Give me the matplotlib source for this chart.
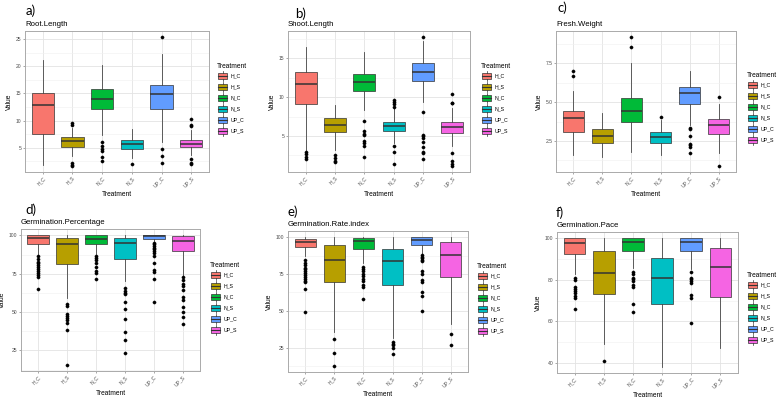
import matplotlib
matplotlib.use("Agg")
import matplotlib.pyplot as plt
from matplotlib.patches import Rectangle, Patch
from matplotlib.lines import Line2D
from matplotlib.legend_handler import HandlerBase
from matplotlib.ticker import FixedLocator, MultipleLocator

plt.rcParams['font.family'] = ['Liberation Sans', 'DejaVu Sans']

treatments = ["H_C", "H_S", "N_C", "N_S", "UP_C", "UP_S"]
colors = ["#F8766D", "#B79F00", "#00BA38", "#00BFC4", "#619CFF", "#F564E3"]

# a) Root.Length
root_lo = [1.9, 3.4, 7.4, 3.1, 6.0, 3.7]
root_q1 = [7.6, 5.2, 12.2, 4.7, 12.2, 5.05]
root_med = [12.9, 6.2, 13.9, 5.6, 14.8, 5.7]
root_q3 = [15.1, 6.9, 15.8, 6.5, 16.6, 6.4]
root_hi = [21.1, 8.6, 20.3, 8.4, 22.2, 8.3]
root_out = [[], [9.6, 9.2, 2.2, 1.9, 1.7], [6.1, 5.25, 4.8, 4.45, 3.35, 2.5],
            [2.0], [25.3, 4.7, 3.5, 2.1], [10.3, 9.2, 8.9, 2.9, 2.2, 2.0]]
root_ticks = [5, 10, 15, 20, 25]

# b) Shoot.Length
shoot_lo = [3.2, 3.2, 8.4, 4.1, 9.4, 3.7]
shoot_q1 = [9.1, 5.56, 10.75, 5.6, 12.1, 5.35]
shoot_med = [11.7, 6.4, 11.95, 6.3, 13.25, 6.15]
shoot_q3 = [13.2, 7.36, 13.0, 6.85, 14.35, 6.85]
shoot_hi = [16.5, 8.95, 15.8, 8.6, 17.2, 8.6]
shoot_out = [[3.0, 2.7, 2.25, 2.0], [2.5, 2.2, 1.8, 1.6],
             [7.0, 5.7, 5.25, 5.1, 4.4, 4.15, 3.7, 2.3],
             [9.6, 9.4, 9.1, 8.8, 3.7, 3.0, 1.45],
             [17.7, 8.1, 5.2, 4.95, 4.75, 4.2, 3.6, 2.95, 2.8, 2.0],
             [10.4, 9.3, 9.2, 2.8, 1.75, 1.45, 1.2]]
shoot_ticks = [5, 10, 15]

# c) Fresh.Weight
fresh_lo = [1.58, 1.47, 1.81, 1.58, 3.5, 1.7]
fresh_q1 = [3.1, 2.37, 3.7, 2.39, 4.9, 2.95]
fresh_med = [3.98, 2.8, 4.41, 2.74, 5.59, 3.53]
fresh_q3 = [4.43, 3.27, 5.27, 3.06, 5.95, 3.94]
fresh_hi = [5.74, 4.3, 7.52, 3.85, 6.98, 4.9]
fresh_out = [[6.98, 6.66], [], [9.17, 8.55], [4.05],
             [3.36, 3.25, 2.82, 2.33, 2.22, 2.09, 1.75], [5.33, 0.91]]
fresh_ticks = [2.5, 5.0, 7.5]

# d) Germination.Percentage
gp_lo = [87.7, 59.1, 87.7, 70.1, 96.5, 74.5]
gp_q1 = [94.7, 81.5, 94.7, 84.8, 98.0, 89.7]
gp_med = [98.2, 94.7, 98.0, 94.9, 99.6, 96.5]
gp_q3 = [100, 98.2, 100, 98.2, 100, 99.6]
gp_hi = [100, 100, 100, 100, 100, 100]
gp_out = [[86.5, 84.5, 83, 82, 80.5, 79.5, 78, 77, 75.5, 74, 73, 65],
          [55.4, 53.8, 48.8, 47.5, 45.9, 44.6, 43.1, 38.5, 15.8],
          [86.6, 85.3, 84, 82.2, 79.6, 77.1, 75.4, 71.6],
          [65.5, 64, 62.6, 61.5, 56.7, 51.9, 45.3, 36.9, 31.9, 23.5],
          [95.4, 94.3, 93.2, 92.1, 91, 89.9, 88.8, 86.6, 81.8, 77.4, 76, 71.9, 56.7],
          [73, 71.2, 68.6, 67.3, 64.6, 59.8, 58, 53.6, 50.3, 47, 42]]
gp_ticks = [25, 50, 75, 100]

# e) Germination.Rate.index
gr_lo = [87, 35.9, 82.5, 31.4, 88.6, 40.9]
gr_q1 = [93.4, 69.8, 92, 67.7, 95, 73]
gr_med = [96.8, 84.3, 97.7, 83.6, 98.4, 87.7]
gr_q3 = [98.9, 95, 99.5, 92.3, 100, 96.8]
gr_hi = [100, 100, 100, 100, 100, 100]
gr_out = [[84.8, 82.5, 80.9, 79.5, 78.4, 77.3, 75.7, 74.5, 73, 71.8, 70.5, 69.3, 64.8, 48.9],
          [30.9, 21.1, 12.7],
          [79.8, 78.4, 76.8, 75, 73.9, 71.8, 70, 67.7, 65.9, 58.2],
          [29.1, 27.7, 26.4, 24.5, 20.9],
          [87.7, 86.8, 85.9, 84.8, 83.6, 76.8, 75.2, 71.1, 69.5, 62.5, 59.8, 50],
          [34.1, 26.4]]
gr_ticks = [25, 50, 75, 100]

# f) Germination.Pace
pace_lo = [82.7, 49.2, 85.6, 38.1, 85.2, 46.9]
pace_q1 = [92.4, 73.1, 93.7, 68.4, 93.7, 71.6]
pace_med = [97.7, 83.1, 98.4, 81.1, 98.5, 86]
pace_q3 = [100, 94, 100, 90.6, 100, 95.2]
pace_hi = [100, 100, 100, 100, 100, 100]
pace_out = [[81.1, 80, 76.6, 75.8, 74.7, 73.5, 72.3, 71.3, 66.1],
            [41],
            [84, 82.7, 81.1, 80.3, 79.5, 77.6, 76.3, 68.2, 64.5],
            [],
            [84, 81.1, 80.3, 79.5, 78.4, 72.7, 71.1, 59.2],
            []]
pace_ticks = [40, 60, 80, 100]

W, H = 778, 400
fig = plt.figure(figsize=(W / 100, H / 100), dpi=100)
fig.patch.set_facecolor("white")


class BoxHandler(HandlerBase):
    def create_artists(self, legend, orig_handle, xdescent, ydescent,
                       width, height, fontsize, trans):
        x0, y0 = -xdescent, -ydescent
        fc = orig_handle.get_facecolor()
        r = Rectangle((x0 + 0.06 * width, y0 + 0.17 * height), 0.88 * width,
                      0.66 * height, facecolor=fc, edgecolor="#333333",
                      linewidth=0.5, transform=trans)
        m = Line2D([x0 + 0.06 * width, x0 + 0.94 * width],
                   [y0 + 0.5 * height] * 2, color="#333333", lw=0.8,
                   transform=trans)
        w1 = Line2D([x0 + 0.5 * width] * 2, [y0 + 0.83 * height, y0 + height],
                    color="#333333", lw=0.5, transform=trans)
        w2 = Line2D([x0 + 0.5 * width] * 2, [y0, y0 + 0.17 * height],
                    color="#333333", lw=0.5, transform=trans)
        return [r, m, w1, w2]


def px(x, y):
    return x / W, 1 - y / H


panels = [
    dict(label="a)", title="Root.Length", lo=root_lo, q1=root_q1, med=root_med,
         q3=root_q3, hi=root_hi, out=root_out, ticks=root_ticks, fmt="{:g}",
         box=(25, 31, 209, 172), lab=(26, 11), leg=(217, 63)),
    dict(label="b)", title="Shoot.Length", lo=shoot_lo, q1=shoot_q1, med=shoot_med,
         q3=shoot_q3, hi=shoot_hi, out=shoot_out, ticks=shoot_ticks, fmt="{:g}",
         box=(288, 31, 470, 172), lab=(295, 14), leg=(481, 63)),
    dict(label="c)", title="Fresh.Weight", lo=fresh_lo, q1=fresh_q1, med=fresh_med,
         q3=fresh_q3, hi=fresh_hi, out=fresh_out, ticks=fresh_ticks, fmt="{:.1f}",
         box=(556, 31, 736, 172), lab=(558, 8), leg=(747, 72)),
    dict(label="d)", title="Germination.Percentage", lo=gp_lo, q1=gp_q1, med=gp_med,
         q3=gp_q3, hi=gp_hi, out=gp_out, ticks=gp_ticks, fmt="{:g}",
         box=(21, 229, 200, 371), lab=(25, 210), leg=(210, 262)),
    dict(label="e)", title="Germination.Rate.index", lo=gr_lo, q1=gr_q1, med=gr_med,
         q3=gr_q3, hi=gr_hi, out=gr_out, ticks=gr_ticks, fmt="{:g}",
         box=(288, 231, 468, 372), lab=(288, 212), leg=(477, 263)),
    dict(label="f)", title="Germination.Pace", lo=pace_lo, q1=pace_q1, med=pace_med,
         q3=pace_q3, hi=pace_hi, out=pace_out, ticks=pace_ticks, fmt="{:g}",
         box=(557, 232, 738, 373), lab=(556, 213), leg=(747, 272)),
]

grey_txt = "#4D4D4D"
for p in panels:
    l, t, r, b = p["box"]
    ax = fig.add_axes([l / W, 1 - b / H, (r - l) / W, (b - t) / H])
    stats = []
    for i, name in enumerate(treatments):
        stats.append(dict(label=name, whislo=p["lo"][i], q1=p["q1"][i],
                          med=p["med"][i], q3=p["q3"][i], whishi=p["hi"][i],
                          fliers=p["out"][i]))
    bp = ax.bxp(stats, positions=range(1, 7), widths=0.75, patch_artist=True,
                showcaps=False,
                boxprops=dict(edgecolor="#333333", linewidth=0.5),
                medianprops=dict(color="#333333", linewidth=1.1),
                whiskerprops=dict(color="#444444", linewidth=0.6),
                flierprops=dict(marker="o", markersize=2.3, markerfacecolor="black",
                                markeredgecolor="black", markeredgewidth=0.3,
                                linestyle="none"),
                zorder=3)
    for patch, c in zip(bp["boxes"], colors):
        patch.set_facecolor(c)
    ax.set_xlim(0.4, 6.6)
    ax.margins(y=0.05)
    ax.autoscale(axis="y")
    step = p["ticks"][1] - p["ticks"][0]
    ax.yaxis.set_major_locator(FixedLocator(p["ticks"]))
    ax.yaxis.set_minor_locator(MultipleLocator(step / 2))
    ax.set_yticklabels([p["fmt"].format(v) for v in p["ticks"]])
    ax.set_xticks(range(1, 7))
    ax.set_xticklabels(treatments, rotation=45, ha="right", rotation_mode="anchor")
    ax.grid(True, which="major", color="#E3E3E3", linewidth=0.6, zorder=0)
    ax.grid(True, which="minor", axis="y", color="#F0F0F0", linewidth=0.4, zorder=0)
    ax.set_axisbelow(True)
    ax.tick_params(axis="both", which="major", labelsize=3.6, colors="#666666",
                   length=1.5, width=0.4, pad=1, labelcolor=grey_txt)
    ax.tick_params(axis="y", which="minor", length=0)
    for s in ax.spines.values():
        s.set_color("#AAAAAA")
        s.set_linewidth(0.7)
    ax.set_xlabel("Treatment", fontsize=4.8, labelpad=2)
    ax.set_ylabel("Value", fontsize=4.8, labelpad=2)
    ax.set_title(p["title"], loc="left", fontsize=5.6, pad=3.5)

    fig.text(*px(*p["lab"]), p["label"], fontsize=9.5, family=["Lato", "DejaVu Sans"],
             ha="left", va="center")

    handles = [Patch(facecolor=c) for c in colors]
    leg = fig.legend(handles, treatments, title="Treatment", loc="upper left",
                     bbox_to_anchor=px(*p["leg"]), bbox_transform=fig.transFigure,
                     frameon=False, fontsize=3.8, title_fontsize=4.8,
                     handler_map={Patch: BoxHandler()}, handlelength=2.1,
                     handleheight=2.6, labelspacing=0.15, handletextpad=0.4,
                     borderpad=0, borderaxespad=0, alignment="left")

fig.savefig("out.png", dpi=100)
